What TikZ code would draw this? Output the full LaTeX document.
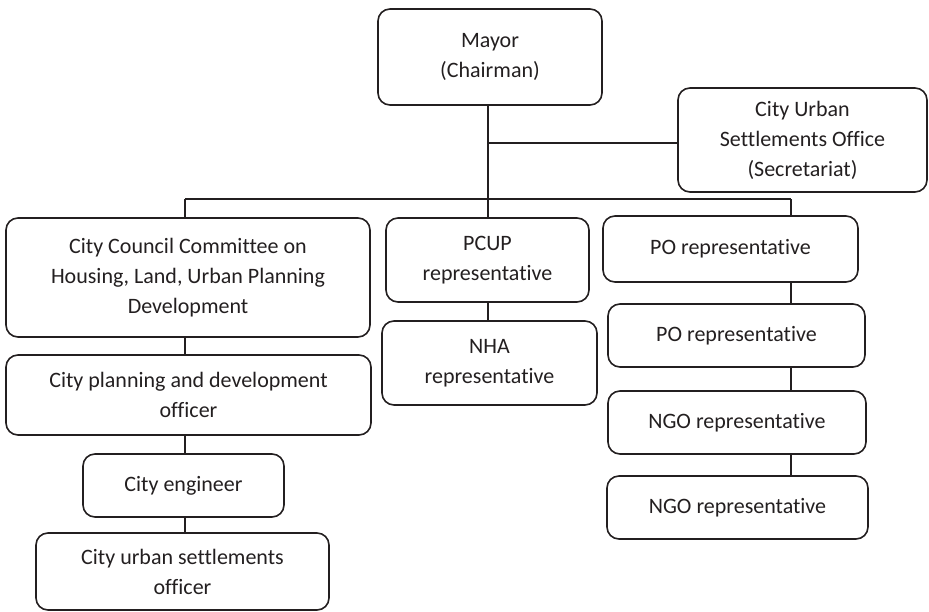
\documentclass[tikz,border=0pt]{standalone}
\usepackage{fontspec}
\setmainfont{Carlito}[Ligatures={NoCommon,NoRare,NoDiscretionary}]
\definecolor{linec}{HTML}{231F20}
\definecolor{textc}{HTML}{231F20}
\begin{document}
\begin{tikzpicture}[x=1pt,y=-1pt,
  box/.style={draw=linec, line width=1.6pt, rounded corners=12pt, align=center,
    inner sep=0pt, text=textc, font=\fontsize{22}{30}\selectfont},
  conn/.style={draw=linec, line width=1.6pt}]
\useasboundingbox (0,0) rectangle (929,611);
% nodes
\node[box, minimum width=224pt, minimum height=96pt] (mayor) at (490,57) {Mayor\\(Chairman)};
\node[box, minimum width=249pt, minimum height=104pt] (sec) at (802.5,140) {City Urban\\Settlements Office\\(Secretariat)};
\node[box, minimum width=364pt, minimum height=119pt] (council) at (188,277.5) {City Council Committee on\\Housing, Land, Urban Planning\\Development};
\node[box, minimum width=203pt, minimum height=84pt] (pcup) at (487.5,260) {PCUP\\representative};
\node[box, minimum width=215pt, minimum height=84pt] (nha) at (489.5,363) {NHA\\representative};
\node[box, minimum width=255pt, minimum height=66pt] (po1) at (730.5,249) {PO representative};
\node[box, minimum width=257pt, minimum height=63pt] (po2) at (736.5,335.5) {PO representative};
\node[box, minimum width=258pt, minimum height=63pt] (ngo1) at (737,422.5) {NGO representative};
\node[box, minimum width=261pt, minimum height=63pt] (ngo2) at (737.5,507.5) {NGO representative};
\node[box, minimum width=365pt, minimum height=80pt] (plan) at (188.5,395) {City planning and development\\officer};
\node[box, minimum width=201pt, minimum height=63pt] (eng) at (183.5,485.5) {City engineer};
\node[box, minimum width=293pt, minimum height=77pt] (urb) at (182.5,571.5) {City urban settlements\\officer};
% junctions
\coordinate (busL) at (185,199);
\coordinate (busM) at (488,199);
\coordinate (busR) at (791,199);
\coordinate (secj) at (488,143);
% connectors
\draw[conn] (busL) -- (busR);
\draw[conn] (mayor.south -| busM) -- (busM |- pcup.north);
\draw[conn] (secj) -- (secj -| sec.west);
\draw[conn] (busL) -- (busL |- council.north);
\draw[conn] (council.south -| busL) -- (busL |- plan.north);
\draw[conn] (plan.south -| busL) -- (busL |- eng.north);
\draw[conn] (eng.south -| busL) -- (busL |- urb.north);
\draw[conn] (pcup.south -| busM) -- (busM |- nha.north);
\draw[conn] (busR) -- (busR |- po1.north);
\draw[conn] (po1.south -| busR) -- (busR |- po2.north);
\draw[conn] (po2.south -| busR) -- (busR |- ngo1.north);
\draw[conn] (ngo1.south -| busR) -- (busR |- ngo2.north);
\end{tikzpicture}
\end{document}
